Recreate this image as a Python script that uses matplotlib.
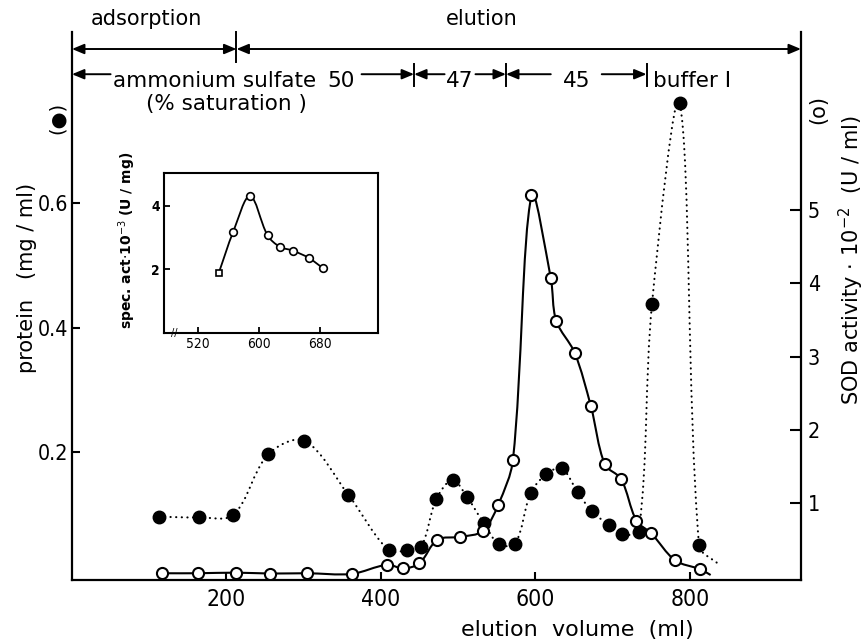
import numpy as np
import matplotlib
matplotlib.use("Agg")
import matplotlib.pyplot as plt
from matplotlib import font_manager as fm
from matplotlib.path import Path
from matplotlib.patches import PathPatch

# protein (filled circles, left axis, mg/ml)
prot_vol = [113, 165, 209, 254, 301, 358, 410, 434, 452, 472, 493, 512, 533, 553, 574,
            594, 614, 634, 655, 673, 695, 712, 734, 751, 787, 812]
prot_conc = [0.096, 0.095, 0.099, 0.196, 0.218, 0.131, 0.042, 0.042, 0.047, 0.125, 0.155,
             0.127, 0.086, 0.052, 0.053, 0.134, 0.164, 0.174, 0.135, 0.105, 0.083, 0.069,
             0.072, 0.437, 0.761, 0.050]
prot_tail = [837, 0.020]

# SOD activity (open circles, right axis, U/ml x 10^-2)
sod_vol = [116, 163, 213, 257, 304, 362, 408, 429, 450, 473, 503, 532, 552, 571, 595,
           620, 627, 651, 672, 690, 711, 731, 750, 781, 813]
sod_act = [0.044, 0.044, 0.052, 0.040, 0.044, 0.035, 0.16, 0.11, 0.18, 0.50, 0.54, 0.62,
           0.98, 1.59, 5.20, 4.07, 3.49, 3.05, 2.32, 1.53, 1.33, 0.76, 0.59, 0.22, 0.10]
sod_tail = [827, 0.02]

# inset: specific activity (U/mg x 10^-3)
spec_vol = [547, 566, 588, 611, 627, 644, 665, 684]
spec_act = [1.89, 3.19, 4.32, 3.07, 2.71, 2.59, 2.36, 2.03]

# elution scheme
phase_switch = 213
sulfate_steps = [443, 562, 744]
sulfate_pct = ['50', '47', '45']

plt.rcParams['font.family'] = 'DejaVu Sans'

# narrow digits for the tick labels: pick what is installed
_fonts = [(f.name, f.stretch) for f in fm.fontManager.ttflist]
if any(n == 'Liberation Sans Narrow' for n, _ in _fonts):
    DIG = dict(family='Liberation Sans Narrow', stretch='normal')
    DIG_SCALE = 1.25
elif any(n == 'DejaVu Sans' and s == 'condensed' for n, s in _fonts):
    DIG = dict(family='DejaVu Sans', stretch='condensed')
    DIG_SCALE = 1.1
else:
    DIG = dict(family='DejaVu Sans', stretch='normal')
    DIG_SCALE = 1.0


def digits(size):
    return dict(fontsize=size * DIG_SCALE, **DIG)


def smooth_path(ax, x, y):
    # smooth curve through the points (cubic bezier, tangents from neighbours)
    pts = ax.transData.transform(np.column_stack([x, y]))
    n = len(pts)
    d = np.hypot(*np.diff(pts, axis=0).T)
    tang = np.zeros_like(pts)
    for i in range(n):
        a = pts[max(i - 1, 0)]
        b = pts[min(i + 1, n - 1)]
        span = (d[i - 1] if i > 0 else 0) + (d[i] if i < n - 1 else 0)
        tang[i] = (b - a) / span
    verts = [pts[0]]
    codes = [Path.MOVETO]
    for i in range(n - 1):
        verts += [pts[i] + tang[i] * d[i] / 3, pts[i + 1] - tang[i + 1] * d[i] / 3, pts[i + 1]]
        codes += [Path.CURVE4] * 3
    verts = ax.transData.inverted().transform(np.array(verts))
    return Path(verts, codes)


fig = plt.figure(figsize=(8.65, 6.43), dpi=100)
ax = fig.add_axes([0.0832, 0.098, 0.8428, 0.8522])
ax2 = ax.twinx()

ax.set_xlim(0, 944)
ax.set_ylim(-0.0056, 0.8747)
ax2.set_ylim(-0.048, 7.428)

for a in (ax, ax2):
    a.spines['top'].set_visible(False)
    for s in a.spines.values():
        s.set_linewidth(1.6)
ax.spines['right'].set_visible(False)
ax2.spines['left'].set_visible(False)
ax2.spines['bottom'].set_visible(False)

ax.set_xticks([200, 400, 600, 800], labels=['200', '400', '600', '800'], **digits(15))
ax.set_yticks([0.2, 0.4, 0.6], labels=['0.2', '0.4', '0.6'], **digits(14))
ax2.set_yticks([1, 2, 3, 4, 5], labels=['1', '2', '3', '4', '5'], **digits(14))
ax.tick_params(axis='x', direction='in', length=6, width=1.5, pad=6)
ax.tick_params(axis='y', direction='in', length=6, width=1.5, pad=3)
ax2.tick_params(axis='y', direction='in', length=8, width=1.5, pad=5)

# protein: dotted smooth line + filled circles
px = prot_vol + [prot_tail[0]]
py = prot_conc + [prot_tail[1]]
ax.add_patch(PathPatch(smooth_path(ax, px, py), fill=False, color='black', lw=1.5,
                       linestyle=(0, (0.1, 2.6)), capstyle='round', zorder=2))
ax.plot(prot_vol, prot_conc, 'o', color='black', ms=9, zorder=4)

# SOD activity: solid smooth line + open circles
sx = sod_vol + [sod_tail[0]]
sy = sod_act + [sod_tail[1]]
ax2.add_patch(PathPatch(smooth_path(ax2, sx, sy), fill=False, color='black', lw=1.5, zorder=3))
ax2.plot(sod_vol, sod_act, 'o', mfc='white', mec='black', mew=1.5, ms=8, zorder=5)

# scheme at the top of the plot
trans = ax.get_xaxis_transform()
xmax = ax.get_xlim()[1]


def arrow(x0, x1, y, style='-|>'):
    ax.annotate('', xy=(x1, y), xytext=(x0, y), xycoords=trans, textcoords=trans,
                annotation_clip=False,
                arrowprops=dict(arrowstyle=style + ',head_length=0.6,head_width=0.25',
                                color='black', lw=1.4, shrinkA=0, shrinkB=0, mutation_scale=12))


def bar(x, y0, y1):
    ax.plot([x, x], [y0, y1], color='black', lw=1.4, transform=trans, clip_on=False)


y1 = 0.969
arrow(0, phase_switch, y1, '<|-|>')
arrow(phase_switch, xmax, y1, '<|-|>')
bar(phase_switch, 0.945, 1.0)
ax.text(96, 1.012, 'adsorption', transform=trans, ha='center', va='baseline', fontsize=15)
ax.text(530, 1.012, 'elution', transform=trans, ha='center', va='baseline', fontsize=15)

y2 = 0.923
tb = 0.9
arrow(50, 0, y2)
ax.text(184, tb, 'ammonium sulfate', transform=trans, ha='center', va='baseline', fontsize=15.5)
ax.text(200, 0.858, '(% saturation )', transform=trans, ha='center', va='baseline', fontsize=15.5)
ax.text(349, tb, sulfate_pct[0], transform=trans, ha='center', va='baseline', fontsize=15.5)
arrow(375, sulfate_steps[0], y2)
for i in (1, 2):
    s, e = sulfate_steps[i - 1], sulfate_steps[i]
    mid = (s + e) / 2
    gap = 20 if i == 1 else 33
    arrow(mid - gap, s, y2)
    arrow(mid + gap, e, y2)
    ax.text(mid, tb, sulfate_pct[i], transform=trans, ha='center', va='baseline', fontsize=15.5)
for x in sulfate_steps:
    bar(x, 0.9015, 0.9416)
ax.text(sulfate_steps[-1] + 8, tb, 'buffer I', transform=trans, ha='left', va='baseline', fontsize=15.5)

# axis labels
fig.text(27 / 865, 1 - 278 / 643, 'protein   (mg / ml)', rotation=90, ha='center', va='center', fontsize=15)
fig.text(57 / 865, 1 - 118 / 643, '(●)', rotation=90, ha='center', va='center', fontsize=14)
fig.text(851 / 865, 1 - 260 / 643, 'SOD activity $\\cdot$ 10$^{-2}$  (U / ml)', rotation=90,
         ha='center', va='center', fontsize=15)
fig.text(818 / 865, 1 - 110 / 643, '(o)', rotation=90, ha='center', va='center', fontsize=15)
fig.text(577 / 865, 1 - 630 / 643, 'elution  volume  (ml)', ha='center', va='center', fontsize=16)

# inset
axi = fig.add_axes([164 / 865, 1 - 332.6 / 643, 214 / 865, 159.9 / 643])
axi.set_xlim(475, 756)
axi.set_ylim(0, 5.05)
for s in axi.spines.values():
    s.set_linewidth(1.5)
axi.set_xticks([520, 600, 680], labels=['520', '600', '680'], **digits(9))
axi.set_yticks([2, 4], labels=['2', '4'], fontweight='bold', **digits(9))
axi.tick_params(direction='in', length=4, width=1.3, pad=3)
axi.add_patch(PathPatch(smooth_path(axi, spec_vol, spec_act), fill=False, color='black', lw=1.3, zorder=3))
axi.plot(spec_vol[:1], spec_act[:1], 's', mfc='white', mec='black', mew=1.2, ms=5, zorder=4)
axi.plot(spec_vol[1:], spec_act[1:], 'o', mfc='white', mec='black', mew=1.2, ms=5.5, zorder=4)
axi.text(0.05, 0.0, '//', transform=axi.transAxes, ha='center', va='center', fontsize=7)
fig.text(127 / 865, 1 - 240 / 643, 'spec. act$\\cdot$10$^{-3}$ (U / mg)', rotation=90,
         ha='center', va='center', fontsize=10, fontweight='bold')

fig.savefig('out.png', dpi=100)
